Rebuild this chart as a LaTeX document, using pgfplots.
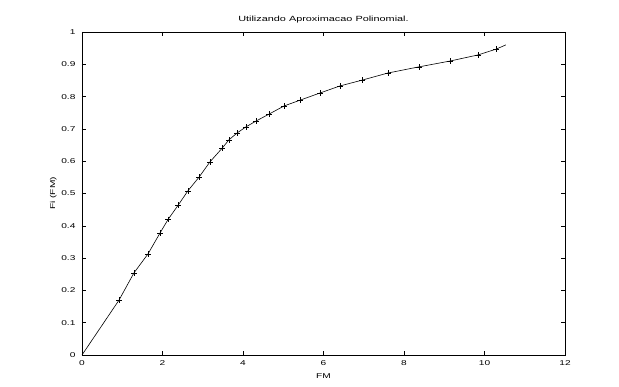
\documentclass[border=0pt]{standalone}
\usepackage{pgfplots}
\pgfplotsset{compat=1.18}
\usepackage{fontspec}
\setmainfont{Liberation Sans}
\newfontfamily\widefont[FakeStretch=1.45]{Liberation Sans}
\begin{document}
\begin{tikzpicture}
\begin{axis}[
  name=ax, at={(0,0)}, anchor=south west,
  scale only axis, width=483pt, height=323pt,
  xmin=0, xmax=12, ymin=0, ymax=1,
  xtick={0,2,...,12}, ytick={0,0.1,...,1},
  yticklabels={0,0.1,0.2,0.3,0.4,0.5,0.6,0.7,0.8,0.9,1},
  tick align=inside, major tick length=4pt,
  tick style={black, line width=0.5pt},
  axis line style={line width=0.6pt},
  tick label style={font=\widefont\fontsize{7}{8}\selectfont},
  /pgf/number format/assume math mode=true,
  xticklabel style={yshift=-2pt},
  yticklabel style={xshift=-3pt},
  title={Utilizando Aproximacao Polinomial.},
  title style={font=\widefont\fontsize{7.5}{8}\selectfont, yshift=-1pt},
  xlabel={FM}, ylabel={Fi (FM)},
  xlabel style={font=\widefont\fontsize{7}{8}\selectfont, yshift=-1pt},
  ylabel style={font=\widefont\fontsize{7}{8}\selectfont, yshift=-2pt},
]
\addplot[black, line width=0.6pt] coordinates {
(0,0) (0.92,0.17) (1.29,0.254) (1.64,0.313) (1.94,0.378) (2.14,0.42) (2.39,0.464) (2.63,0.508) (2.91,0.551) (3.18,0.598) (3.48,0.64) (3.65,0.666) (3.85,0.687) (4.07,0.706) (4.32,0.724) (4.65,0.746) (5.02,0.771) (5.42,0.789) (5.91,0.811) (6.41,0.833) (6.96,0.851) (7.6,0.873) (8.37,0.892) (9.14,0.91) (9.84,0.929) (10.29,0.947) (10.53,0.96)
};
\addplot[only marks, mark=+, mark size=2.8pt, black, line width=0.6pt] coordinates {
(0.92,0.17) (1.29,0.254) (1.64,0.313) (1.94,0.378) (2.14,0.42) (2.39,0.464) (2.63,0.508) (2.91,0.551) (3.18,0.598) (3.48,0.64) (3.65,0.666) (3.85,0.687) (4.07,0.706) (4.32,0.724) (4.65,0.746) (5.02,0.771) (5.42,0.789) (5.91,0.811) (6.41,0.833) (6.96,0.851) (7.6,0.873) (8.37,0.892) (9.14,0.91) (9.84,0.929) (10.29,0.947)
};
\end{axis}
\pgfresetboundingbox
\path[use as bounding box] (-82pt,-32pt) rectangle (537pt,355pt);
\end{tikzpicture}
\end{document}
